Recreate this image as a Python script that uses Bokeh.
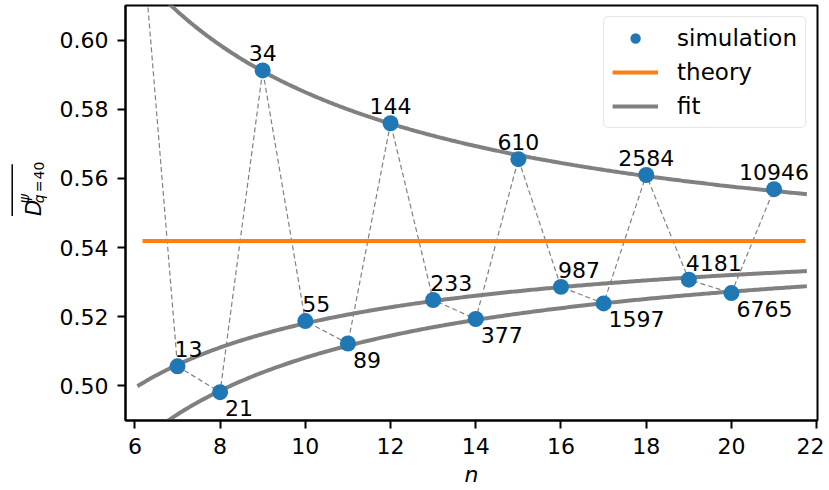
import numpy as np
from bokeh.plotting import figure
from bokeh.models import Range1d, FixedTicker, NumeralTickFormatter, Legend, LegendItem, ColumnDataSource
from bokeh.layouts import row
from bokeh.embed import file_html
from bokeh.resources import INLINE
from bokeh.core.properties import value

# ---------------- data ----------------
sim_n = [6, 7, 8, 9, 10, 11, 12, 13, 14, 15, 16, 17, 18, 19, 20, 21]
sim_val = [0.6557, 0.5056, 0.4981, 0.5913, 0.5187, 0.5122, 0.5760, 0.5248,
           0.5193, 0.5656, 0.5286, 0.5238, 0.5610, 0.5307, 0.5268, 0.5569]
fib_labels = ["8", "13", "21", "34", "55", "89", "144", "233", "377", "610",
              "987", "1597", "2584", "4181", "6765", "10946"]
theory_n = [6.18, 21.74]
theory_val = [0.5419, 0.5419]
fit_n_span = [6.06, 21.77]
x_ticks = [6, 8, 10, 12, 14, 16, 18, 20, 22]
y_ticks = [0.50, 0.52, 0.54, 0.56, 0.58, 0.60]
x_lim = [5.78, 22.02]
y_lim = [0.4899, 0.6101]

FONT = "DejaVu Sans"
BLUE = "#1f77b4"
ORANGE = "#ff7f0e"
GRAY = "#808080"
H = 489
LW = 56

n_arr = np.array(sim_n, dtype=float)
v_arr = np.array(sim_val, dtype=float)

# ---------------- main figure ----------------
p = figure(width=768, height=H, x_range=Range1d(*x_lim), y_range=Range1d(*y_lim),
           output_backend="svg", toolbar_location=None,
           min_border_left=60, min_border_right=7, min_border_top=5, min_border_bottom=66)
p.background_fill_color = "white"
p.border_fill_color = "white"
p.grid.visible = False
p.outline_line_color = "black"
p.outline_line_width = 2
p.outline_line_alpha = 1.0

for ax in (p.xaxis[0], p.yaxis[0]):
    ax.axis_line_width = 2
    ax.axis_line_color = "black"
    ax.major_tick_line_width = 2
    ax.major_tick_line_color = "black"
    ax.major_tick_out = 8
    ax.major_tick_in = 0
    ax.minor_tick_line_color = None
    ax.major_label_text_font = FONT
    ax.major_label_text_font_size = "22px"
    ax.major_label_text_color = "black"
    ax.major_label_standoff = 9

p.xaxis.ticker = FixedTicker(ticks=x_ticks)
p.yaxis.ticker = FixedTicker(ticks=y_ticks)
p.yaxis.formatter = NumeralTickFormatter(format="0.00")
p.xaxis.axis_label = "n"
p.xaxis.axis_label_text_font = FONT
p.xaxis.axis_label_text_font_style = "italic"
p.xaxis.axis_label_text_font_size = "22px"
p.xaxis.axis_label_text_color = "black"
p.xaxis.axis_label_standoff = 5

# dashed connector
p.line(sim_n, sim_val, line_color=GRAY, line_width=1.2, line_dash="5 3")

# fits: a + b/n on the three interleaved branches (n mod 3)
fit_x = np.linspace(fit_n_span[0], fit_n_span[1], 300)
fit_renderers = []
for r in (0, 1, 2):
    mask = (n_arr % 3 == r) & (v_arr < y_lim[1])
    coef = np.polyfit(1.0 / n_arr[mask], v_arr[mask], 1)
    fy = coef[0] / fit_x + coef[1]
    fit_renderers.append(p.line(fit_x, fy, line_color=GRAY, line_width=4))

th = p.line(theory_n, theory_val, line_color=ORANGE, line_width=4)
sc = p.scatter(sim_n, sim_val, size=16, fill_color=BLUE, line_color=None)

# annotations
visible = v_arr < y_lim[1]
groups = {
    0: dict(text_align="center", x_offset=0, y_offset=-17),
    1: dict(text_align="left", x_offset=-3, y_offset=-17),
    2: dict(text_align="left", x_offset=5, y_offset=16),
}
for r, sty in groups.items():
    m = (n_arr % 3 == r) & visible
    src = ColumnDataSource(dict(x=n_arr[m], y=v_arr[m],
                                t=[fib_labels[i] for i in range(len(sim_n)) if m[i]]))
    p.text(x="x", y="y", text="t", source=src, text_font=value(FONT),
           text_font_size="22px", text_color="black", text_baseline="alphabetic", **sty)

legend = Legend(items=[LegendItem(label="simulation", renderers=[sc]),
                       LegendItem(label="theory", renderers=[th]),
                       LegendItem(label="fit", renderers=[fit_renderers[0]])],
                location="top_right")
legend.label_text_font = FONT
legend.label_text_font_size = "23px"
legend.label_text_color = "black"
legend.glyph_width = 46
legend.glyph_height = 26
legend.label_height = 26
legend.label_standoff = 19
legend.spacing = 8
legend.padding = 8
legend.margin = 11
legend.border_line_color = "#cccccc"
legend.border_line_width = 1.5
legend.background_fill_alpha = 0.8
try:
    legend.border_radius = 5
except Exception:
    pass
p.add_layout(legend)

# ---------------- y-axis label panel (data coords == page pixels) ----------------
lab = figure(width=LW, height=H, x_range=Range1d(0, LW), y_range=Range1d(H, 0),
             x_axis_type=None, y_axis_type=None, output_backend="svg",
             toolbar_location=None, min_border=0)
lab.grid.visible = False
lab.outline_line_color = None
lab.background_fill_color = "white"
lab.border_fill_color = "white"
ang = np.pi / 2
common = dict(angle=ang, text_font=value(FONT), text_color="black",
              text_align="left", text_baseline="alphabetic")
lab.text(x=[33], y=[248], text=["D"], text_font_style="italic", text_font_size="21px", **common)
lab.text(x=[23], y=[233], text=["ψ"], text_font_style="italic", text_font_size="14px", **common)
lab.text(x=[38], y=[233], text=["q"], text_font_style="italic", text_font_size="14px", **common)
lab.text(x=[38], y=[220], text=["="], text_font_size="14px", **common)
lab.text(x=[38], y=[205], text=["40"], text_font_size="14px", **common)
lab.segment(x0=[11.7], y0=[187], x1=[11.7], y1=[248], line_color="black", line_width=1.5)

layout = row(lab, p)
open("out.html", "w").write(file_html(layout, INLINE))
